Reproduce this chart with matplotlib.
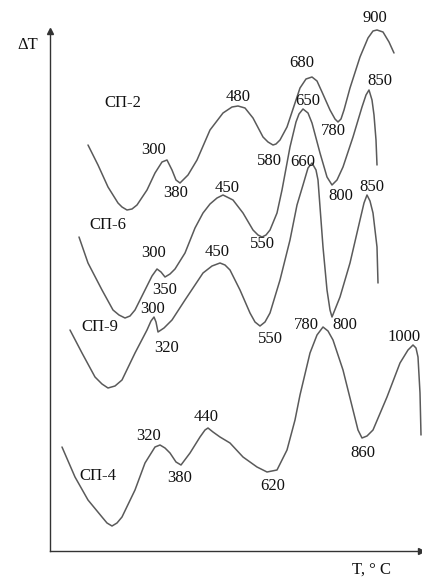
import matplotlib
matplotlib.use("Agg")
import matplotlib.pyplot as plt

# ---- data (arbitrary units: x ~ temperature position, y ~ ΔT) ----
sp2_x = [38, 48, 58, 68, 72, 77, 82, 87, 97, 105, 112, 117, 122, 126, 130, 138, 147, 160, 173, 182, 188, 195, 203,
         213, 218, 223, 226, 230, 237, 245, 250, 256, 262, 267, 272, 280, 285, 288, 291, 294, 300, 310, 318, 323,
         327, 333, 339, 344]
sp2_y = [406, 386, 364, 348, 344, 341, 342, 346, 361, 378, 389, 391, 381, 371, 368, 376, 391, 421, 438, 444, 445, 443,
         433, 414, 409, 406, 407, 411, 424, 448, 463, 472, 474, 470, 459, 441, 432, 429, 432, 441, 463, 494, 513,
         520, 521, 519, 509, 498]

sp6_x = [29, 38, 52, 63, 69, 75, 80, 85, 95, 102, 107, 111, 115, 120, 125, 135, 145, 153, 160, 167, 173, 183, 193,
         203, 208, 212, 216, 220, 227, 232, 240, 246, 249, 253, 258, 262, 270, 277, 282, 287, 293, 303, 312, 316,
         319, 322, 324, 326, 327]
sp6_y = [314, 288, 261, 241, 236, 233, 235, 241, 261, 275, 282, 279, 274, 277, 282, 298, 323, 338, 347, 353, 356, 351,
         338, 321, 316, 314, 316, 321, 338, 361, 404, 429, 437, 442, 438, 428, 398, 374, 366, 371, 384, 414, 444,
         456, 461, 451, 436, 411, 386]

sp9_x = [20, 32, 45, 52, 58, 65, 72, 85, 97, 101, 104, 106, 108, 114, 122, 135, 145, 153, 162, 170, 175, 180, 190,
         200, 205, 210, 215, 220, 230, 240, 247, 253, 258, 262, 266, 268, 273, 277, 280, 282, 290, 300, 310, 314,
         317, 320, 323, 327, 328]
sp9_y = [221, 198, 174, 167, 163, 165, 171, 198, 221, 230, 234, 229, 219, 223, 231, 251, 266, 278, 285, 288, 286, 281,
         261, 238, 229, 225, 229, 238, 271, 311, 346, 366, 383, 388, 381, 371, 304, 261, 241, 234, 254, 288, 331,
         348, 356, 350, 338, 304, 268]

sp4_x = [12, 25, 38, 52, 57, 62, 67, 72, 85, 95, 105, 110, 115, 120, 126, 131, 140, 150, 155, 158, 163, 170, 180,
         193, 207, 217, 227, 237, 245, 250, 260, 267, 273, 278, 283, 293, 303, 308, 312, 317, 323, 337, 350, 358,
         363, 366, 368, 370, 371]
sp4_y = [104, 74, 51, 34, 28, 25, 28, 34, 61, 88, 104, 106, 103, 98, 89, 86, 98, 114, 121, 123, 119, 114, 108, 94,
         84, 79, 81, 101, 131, 156, 198, 216, 224, 220, 211, 181, 141, 121, 113, 115, 121, 154, 188, 201, 206,
         203, 194, 158, 116]

curve_names = ["СП-2", "СП-6", "СП-9", "СП-4"]
name_pos = [(73, 448), (58, 326), (50, 224), (48, 75)]

peak_labels = ["300", "380", "480", "580", "680", "780", "900",
               "300", "350", "450", "550", "650", "800", "850",
               "300", "320", "450", "550", "660", "800", "850",
               "320", "380", "440", "620", "780", "860", "1000"]
peak_pos = [(104, 401), (126, 358), (188, 454), (219, 390), (252, 488), (283, 420), (325, 533),
            (104, 298), (115, 261), (177, 363), (212, 307), (258, 450), (291, 355), (330, 470),
            (103, 242), (117, 203), (167, 299), (220, 212), (253, 389), (295, 226), (322, 364),
            (99, 115), (130, 73), (156, 134), (223, 65), (256, 226), (313, 98), (354, 214)]

# ---- figure ----
W, H = 422, 578
fig = plt.figure(figsize=(W / 100, H / 100), dpi=100)
fig.patch.set_facecolor("white")
ax = fig.add_axes([50 / W, 27 / H, 371 / W, 520 / H])
ax.set_xlim(0, 371)
ax.set_ylim(0, 520)

line_kw = dict(color="#5a5a5a", lw=1.1, solid_joinstyle="round", solid_capstyle="round", clip_on=False)
for xs, ys in [(sp2_x, sp2_y), (sp6_x, sp6_y), (sp9_x, sp9_y), (sp4_x, sp4_y)]:
    ax.plot(xs, ys, **line_kw)

font = dict(family=["Liberation Serif", "DejaVu Serif"], fontsize=12, color="#111111",
            ha="center", va="center")
for name, (x, y) in zip(curve_names, name_pos):
    ax.text(x, y, name, **font)
for lab, (x, y) in zip(peak_labels, peak_pos):
    ax.text(x, y, lab, **font)

ax.text(-22, 506, "ΔT", **font)
ax.text(322, -19, "T, ° C", **font)

for s in ["top", "right"]:
    ax.spines[s].set_visible(False)
for s in ["left", "bottom"]:
    ax.spines[s].set_color("#333333")
    ax.spines[s].set_linewidth(1.0)
ax.set_xticks([])
ax.set_yticks([])
ax.plot(1, 0, ">", color="#333333", ms=5, transform=ax.transAxes, clip_on=False)
ax.plot(0, 1, "^", color="#333333", ms=5, transform=ax.transAxes, clip_on=False)

fig.savefig("out.png", dpi=100, facecolor="white")
